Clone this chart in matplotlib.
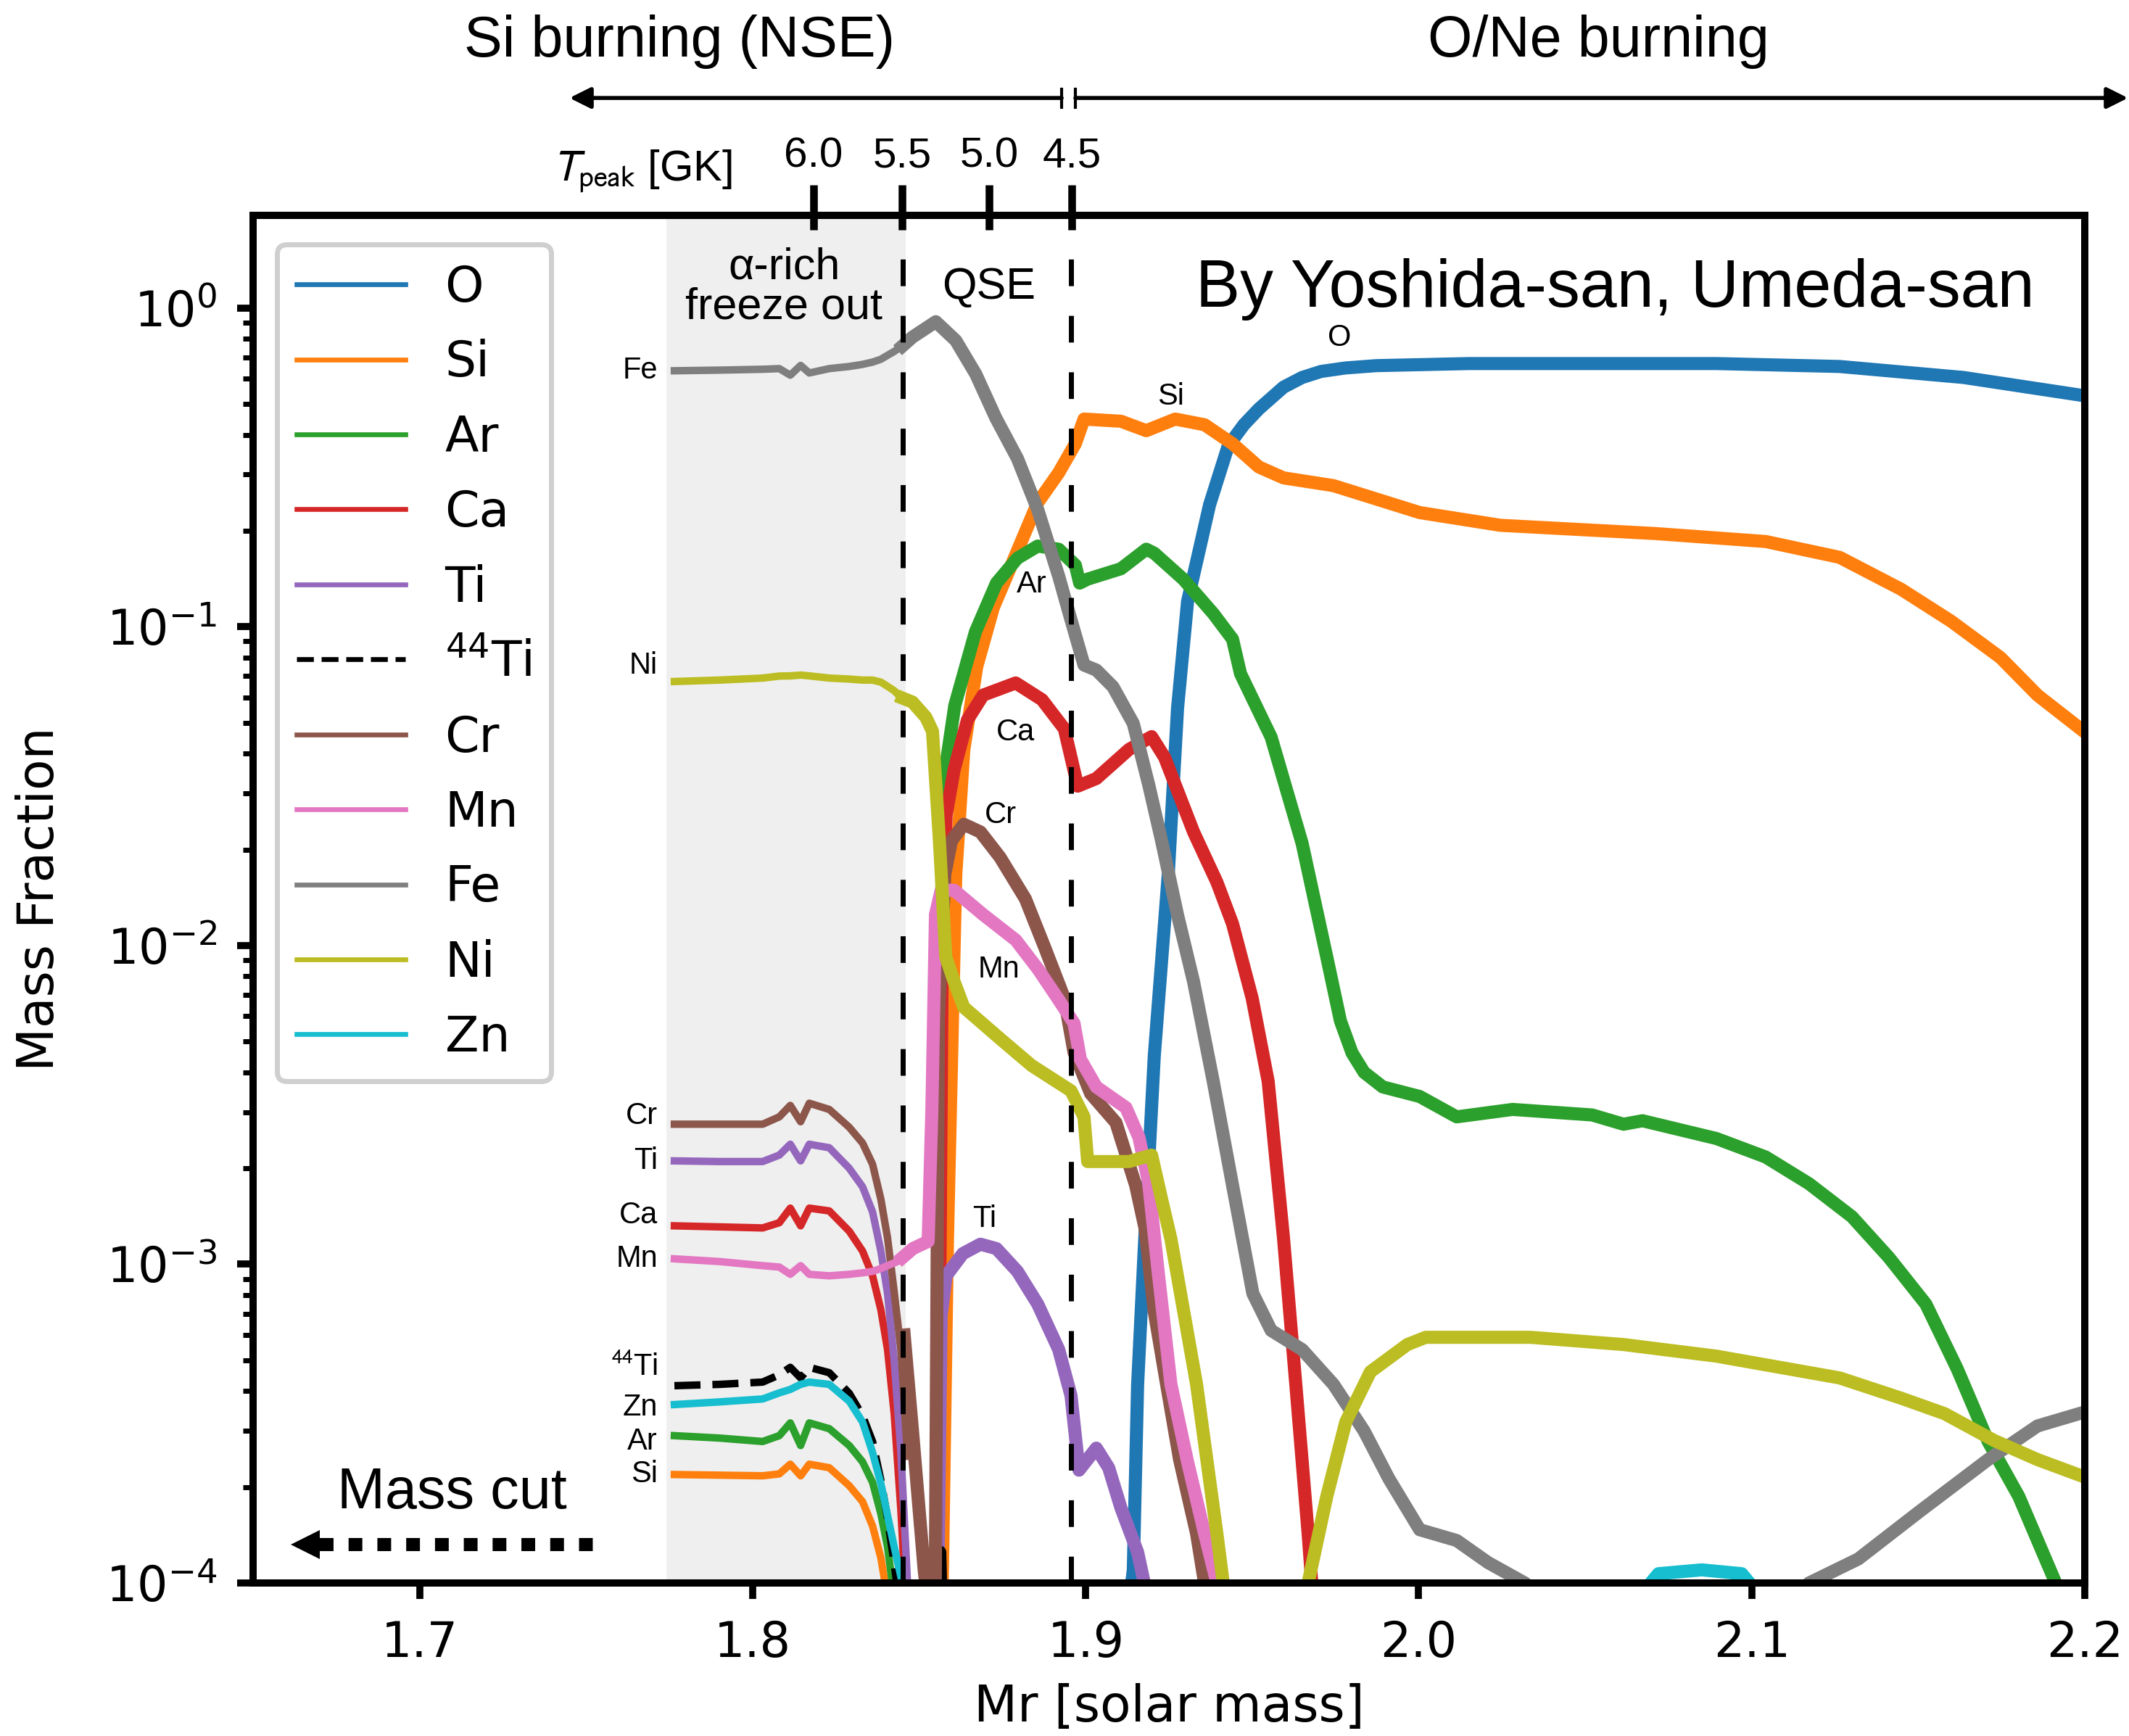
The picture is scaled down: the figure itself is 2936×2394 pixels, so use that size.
import matplotlib
matplotlib.use('Agg')
import matplotlib.pyplot as plt
from matplotlib.lines import Line2D

# ---- alpha-rich freeze-out zone (thin lines), common mass grid ----
x_in = [1.7765, 1.790, 1.803, 1.808, 1.8113, 1.8144, 1.817, 1.823, 1.829,
        1.833, 1.836, 1.8385, 1.8405, 1.8425, 1.8445, 1.8465]
fe_in = [0.635, 0.638, 0.642, 0.645, 0.615, 0.66, 0.625, 0.645, 0.655,
         0.665, 0.676, 0.69, 0.71, 0.73, 0.755, 0.78]
ni_in = [0.0673, 0.068, 0.069, 0.070, 0.0701, 0.0705, 0.0701, 0.069, 0.0685,
         0.068, 0.068, 0.067, 0.065, 0.063, 0.060, 0.058]
si_in = [2.19e-4, 2.18e-4, 2.17e-4, 2.2e-4, 2.36e-4, 2.17e-4, 2.36e-4, 2.3e-4, 2.02e-4,
         1.8e-4, 1.51e-4, 1.2e-4, 9e-5, 6e-5, 5e-5, 5e-5]
ar_in = [2.9e-4, 2.85e-4, 2.78e-4, 2.9e-4, 3.18e-4, 2.7e-4, 3.18e-4, 3.05e-4, 2.7e-4,
         2.4e-4, 2.07e-4, 1.65e-4, 1.3e-4, 9e-5, 5e-5, 5e-5]
zn_in = [3.63e-4, 3.7e-4, 3.78e-4, 3.95e-4, 4.05e-4, 4.2e-4, 4.27e-4, 4.2e-4, 3.72e-4,
         3.2e-4, 2.57e-4, 2.05e-4, 1.63e-4, 1.3e-4, 1.05e-4, 8e-5]
ti44_in = [4.16e-4, 4.2e-4, 4.27e-4, 4.5e-4, 4.75e-4, 4.4e-4, 4.75e-4, 4.57e-4, 3.94e-4,
           3.35e-4, 2.78e-4, 2.1e-4, 1.6e-4, 1.15e-4, 8e-5, 5e-5]
ca_in = [1.32e-3, 1.31e-3, 1.3e-3, 1.35e-3, 1.5e-3, 1.32e-3, 1.5e-3, 1.47e-3, 1.27e-3,
         1.1e-3, 9.2e-4, 7.2e-4, 5.4e-4, 3.4e-4, 1.7e-4, 7e-5]
ti_in = [2.11e-3, 2.1e-3, 2.1e-3, 2.2e-3, 2.38e-3, 2.11e-3, 2.38e-3, 2.32e-3, 2.0e-3,
         1.75e-3, 1.46e-3, 1.1e-3, 8.1e-4, 5e-4, 2.6e-4, 1.0e-4]
cr_in = [2.75e-3, 2.75e-3, 2.75e-3, 2.9e-3, 3.15e-3, 2.8e-3, 3.2e-3, 3.06e-3, 2.69e-3,
         2.4e-3, 2.06e-3, 1.6e-3, 1.21e-3, 8.2e-4, 5.4e-4, 2.5e-4]
mn_in = [1.04e-3, 1.02e-3, 9.9e-4, 9.8e-4, 9.3e-4, 9.9e-4, 9.3e-4, 9.2e-4, 9.3e-4,
         9.4e-4, 9.5e-4, 9.7e-4, 9.9e-4, 1.01e-3, 1.03e-3, 1.06e-3]

# ---- QSE / incomplete Si burning / O burning (thick lines) ----
o_x = [1.912, 1.9143, 1.9156, 1.9178, 1.9206, 1.9248, 1.9276, 1.9306, 1.9372, 1.9428,
       1.9475, 1.952, 1.9594, 1.965, 1.9707, 1.978, 1.9873, 2.0151, 2.0894, 2.1264,
       2.1636, 2.2]
o_y = [7e-5, 1.1e-4, 4.2e-4, 1.24e-3, 4.5e-3, 0.0167, 0.0557, 0.12, 0.241, 0.369,
       0.43, 0.482, 0.564, 0.605, 0.632, 0.648, 0.659, 0.669, 0.669, 0.655,
       0.605, 0.53]

si_x = [1.8568, 1.8585, 1.861, 1.8634, 1.8673, 1.8723, 1.877, 1.8856, 1.8919, 1.8969,
        1.8995, 1.9106, 1.9182, 1.9269, 1.9357, 1.9441, 1.952, 1.9594, 1.9744, 2.0003,
        2.0245, 2.0709, 2.1042, 2.1264, 2.1449, 2.1599, 2.1747, 2.1858, 2.2]
si_y = [8e-5, 1.2e-3, 0.0167, 0.041, 0.075, 0.115, 0.15, 0.245, 0.304, 0.375,
        0.448, 0.441, 0.412, 0.448, 0.43, 0.375, 0.317, 0.293, 0.277, 0.228,
        0.208, 0.196, 0.185, 0.165, 0.131, 0.104, 0.080, 0.061, 0.0467]

ar_x = [1.8555, 1.857, 1.8607, 1.8669, 1.8732, 1.8795, 1.8856, 1.8919, 1.8969, 1.8982,
        1.9006, 1.9106, 1.9182, 1.9206, 1.9293, 1.9383, 1.9441, 1.9465, 1.9557, 1.965,
        1.9724, 1.9765, 1.980, 1.9836, 1.9892, 2.0003, 2.0114, 2.0282, 2.0521, 2.0615,
        2.0672, 2.0894, 2.1042, 2.1172, 2.1301, 2.1412, 2.1523, 2.1617, 2.171, 2.1802,
        2.1913, 2.195]
ar_y = [8e-5, 0.031, 0.0566, 0.0964, 0.137, 0.164, 0.179, 0.175, 0.156, 0.137,
        0.141, 0.152, 0.175, 0.17, 0.141, 0.110, 0.0914, 0.0712, 0.045, 0.0209,
        0.0092, 0.0058, 0.0046, 0.0040, 0.0036, 0.00336, 0.0029, 0.00306, 0.00294, 0.00275,
        0.00282, 0.00248, 0.00217, 0.00179, 0.00141, 0.00105, 7.5e-4, 4.7e-4, 2.78e-4, 1.87e-4,
        1.0e-4, 7e-5]

ca_x = [1.8555, 1.857, 1.8581, 1.8605, 1.8645, 1.8692, 1.879, 1.8869, 1.8936, 1.8956,
        1.8976, 1.9032, 1.913, 1.9198, 1.9237, 1.9324, 1.9394, 1.9441, 1.95, 1.9548,
        1.9594, 1.9631, 1.9668, 1.969]
ca_y = [8e-5, 0.012, 0.0256, 0.0356, 0.051, 0.061, 0.0666, 0.059, 0.0478, 0.0389,
        0.0316, 0.0334, 0.0412, 0.0452, 0.0389, 0.0227, 0.0158, 0.0117, 0.00683, 0.00375,
        1.21e-3, 4.2e-4, 1.43e-4, 7e-5]

ti_x = [1.8555, 1.8566, 1.8581, 1.8631, 1.8684, 1.8732, 1.8795, 1.8856, 1.8919, 1.8956,
        1.898, 1.9032, 1.9069, 1.9106, 1.9156, 1.9176, 1.919]
ti_y = [8e-5, 6.9e-4, 9.2e-4, 1.08e-3, 1.156e-3, 1.12e-3, 9.5e-4, 7.5e-4, 5.4e-4, 3.87e-4,
        2.26e-4, 2.65e-4, 2.3e-4, 1.72e-4, 1.25e-4, 1.0e-4, 7e-5]

ti44_x = [1.8555, 1.8562, 1.8569]
ti44_y = [6e-5, 1.25e-4, 6e-5]

cr_x = [1.8455, 1.848, 1.8515, 1.853, 1.8548, 1.8558, 1.8577, 1.8597, 1.8634, 1.8684,
        1.8743, 1.8819, 1.8878, 1.8936, 1.8965, 1.9015, 1.9091, 1.915, 1.9178, 1.9206,
        1.9243, 1.9282, 1.9333, 1.9357, 1.937]
cr_y = [6e-4, 3e-4, 1.1e-4, 8e-5, 8e-5, 6e-3, 0.0167, 0.0213, 0.024, 0.0227,
        0.0189, 0.014, 0.0098, 0.00683, 0.00462, 0.00343, 0.00278, 0.00177, 0.0013, 7.1e-4,
        4.2e-4, 2.44e-4, 1.43e-4, 1.0e-4, 7e-5]

mn_x = [1.845, 1.8481, 1.8527, 1.8538, 1.8549, 1.8566, 1.8605, 1.8692, 1.879, 1.8858,
        1.8917, 1.8965, 1.8984, 1.9032, 1.9121, 1.916, 1.9189, 1.9219, 1.9256, 1.9306,
        1.9357, 1.9394, 1.941]
mn_y = [1.05e-3, 1.12e-3, 1.18e-3, 3e-3, 0.0125, 0.0149, 0.0149, 0.0125, 0.0104, 0.0084,
        0.0068, 0.0057, 0.0044, 0.0036, 0.0031, 0.0025, 0.0018, 9.2e-4, 4.2e-4, 2.4e-4,
        1.43e-4, 1.0e-4, 7e-5]

fe_x = [1.845, 1.848, 1.855, 1.861, 1.867, 1.873, 1.8795, 1.8856, 1.8919, 1.8956,
        1.8995, 1.9032, 1.9082, 1.9143, 1.919, 1.9228, 1.9276, 1.9324, 1.9383, 1.9441,
        1.9502, 1.9557, 1.965, 1.9744, 1.9836, 1.991, 2.0003, 2.0114, 2.0208, 2.0319,
        2.045, 2.105, 2.1172, 2.132, 2.1505, 2.171, 2.1858, 2.2]
fe_y = [0.76, 0.81, 0.905, 0.79, 0.62, 0.452, 0.337, 0.233, 0.144, 0.105,
        0.0758, 0.0731, 0.0648, 0.0497, 0.0317, 0.0213, 0.01245, 0.0077, 0.00375, 0.00177,
        8.1e-4, 6.2e-4, 5.4e-4, 4.2e-4, 3.0e-4, 2.13e-4, 1.47e-4, 1.36e-4, 1.16e-4, 1.0e-4,
        7e-5, 7e-5, 1.0e-4, 1.19e-4, 1.68e-4, 2.44e-4, 3.11e-4, 3.44e-4]

ni_x = [1.845, 1.848, 1.852, 1.854, 1.856, 1.858, 1.8605, 1.8634, 1.8743, 1.8838,
        1.8956, 1.8995, 1.9006, 1.913, 1.9198, 1.9228, 1.9256, 1.9333, 1.9394, 1.9425,
        1.966, 1.9668, 1.9724, 1.9781, 1.9855, 1.9966, 2.0021, 2.0336, 2.0615, 2.0894,
        2.1264, 2.1449, 2.1579, 2.1728, 2.1858, 2.2]
ni_y = [0.0597, 0.058, 0.052, 0.047, 0.022, 0.0092, 0.0077, 0.0064, 0.0051, 0.0042,
        0.0035, 0.0029, 0.0021, 0.0021, 0.0022, 0.0016, 0.0012, 4.2e-4, 1.43e-4, 8e-5,
        8e-5, 1.0e-4, 1.87e-4, 3.2e-4, 4.6e-4, 5.6e-4, 5.9e-4, 5.9e-4, 5.6e-4, 5.15e-4,
        4.4e-4, 3.8e-4, 3.4e-4, 2.8e-4, 2.44e-4, 2.15e-4]

zn_x = [2.062, 2.072, 2.085, 2.097, 2.107]
zn_y = [8e-5, 1.07e-4, 1.1e-4, 1.07e-4, 8e-5]

tpeak_x = [1.8183, 1.8449, 1.871, 1.8958]
tpeak_lab = ['6.0', '5.5', '5.0', '4.5']
xtick_vals = [1.7, 1.8, 1.9, 2.0, 2.1, 2.2]

names = ['O', 'Si', 'Ar', 'Ca', 'Ti', r'$^{44}$Ti', 'Cr', 'Mn', 'Fe', 'Ni', 'Zn']
cols = ['tab:blue', 'tab:orange', 'tab:green', 'tab:red', 'tab:purple', 'k',
        'tab:brown', 'tab:pink', 'tab:gray', 'tab:olive', 'tab:cyan']
inner = [None, si_in, ar_in, ca_in, ti_in, ti44_in, cr_in, mn_in, fe_in, ni_in, zn_in]
outer = [(o_x, o_y), (si_x, si_y), (ar_x, ar_y), (ca_x, ca_y), (ti_x, ti_y),
         (ti44_x, ti44_y), (cr_x, cr_y), (mn_x, mn_y), (fe_x, fe_y), (ni_x, ni_y),
         (zn_x, zn_y)]

HFONT = 'Liberation Sans'

fig = plt.figure(figsize=(14.68, 11.97), dpi=200)
ax = fig.add_axes([0.1189, 0.0881, 0.8603, 0.7878])
ax.set_yscale('log')
ax.set_xlim(1.65, 2.2)
ax.set_ylim(1e-4, 1.95)

ax.axvspan(1.774, 1.846, color='#efefef', zorder=0, lw=0)

for nm, c, yin, (xo, yo) in zip(names, cols, inner, outer):
    ls = (0, (3.5, 1.6)) if c == 'k' else '-'
    if yin is not None:
        ax.plot(x_in, yin, color=c, lw=3.7, ls=ls)
    ax.plot(xo, yo, color=c, lw=6.5)

for xv in (1.845, 1.8956):
    ax.axvline(xv, color='k', lw=2.5, ls=(0, (5.3, 5.9)), zorder=5)

# labels at the start of the thin lines
left_lab = ['Fe', 'Ni', 'Cr', 'Ti', 'Ca', 'Mn', r'$^{44}$Ti', 'Zn', 'Ar', 'Si']
left_y = [fe_in[0], ni_in[0] * 1.12, cr_in[0] * 1.06, ti_in[0], ca_in[0] * 1.08,
          mn_in[0], ti44_in[0] * 1.14, zn_in[0] * 0.98, ar_in[0] * 0.96, si_in[0]]
for t, yv in zip(left_lab, left_y):
    ax.text(1.7715, yv, t, ha='right', va='center', fontsize=15, family=HFONT,
            math_fontfamily='stixsans')

# labels along the thick lines
for t, xv, yv in [('Ar', 1.8838, 0.136), ('Ca', 1.879, 0.0467), ('Cr', 1.8745, 0.0256),
                  ('Mn', 1.874, 0.0084), ('Ti', 1.8695, 1.39e-3), ('Si', 1.9256, 0.528),
                  ('O', 1.9762, 0.807)]:
    ax.text(xv, yv, t, ha='center', va='center', fontsize=15, family=HFONT)

trans = ax.get_xaxis_transform()
ax.text(1.8094, 0.9475, 'α-rich\nfreeze out', transform=trans, ha='center', va='center',
        fontsize=22, family=HFONT, linespacing=0.95)
ax.text(1.871, 0.9475, 'QSE', transform=trans, ha='center', va='center',
        fontsize=22, family=HFONT)

# mass cut arrow
ax.plot([1.6700, 1.7525], [1.32e-4, 1.32e-4], color='k', lw=6.5,
        ls=(0, (1.05, 1.15)), dash_capstyle='butt')
ax.plot([1.6657], [1.32e-4], marker='<', ms=14.5, color='k', mew=0)
ax.text(1.7097, 1.72e-4, 'Mass cut', ha='center', va='baseline', fontsize=28.5, family=HFONT)

# T_peak scale on top
for xv, t in zip(tpeak_x, tpeak_lab):
    ax.plot([xv, xv], [0.9894, 1.0223], transform=trans, color='k', lw=3.8,
            clip_on=False, solid_capstyle='butt')
    ax.text(xv, 1.0355, t, transform=trans, ha='center', va='baseline',
            fontsize=21, family=HFONT)
ax.text(1.7939, 1.026, r'$T_{\mathrm{peak}}$ [GK]', transform=trans, ha='right',
        va='baseline', fontsize=21.5, family=HFONT, math_fontfamily='stixsans')

# burning regimes
ax.annotate('', xy=(1.745, 1.0859), xytext=(1.8928, 1.0859), xycoords=trans,
            textcoords=trans, annotation_clip=False,
            arrowprops=dict(arrowstyle='-|>', color='k', lw=2, mutation_scale=22,
                            shrinkA=0, shrinkB=0))
ax.annotate('', xy=(2.213, 1.0859), xytext=(1.8969, 1.0859), xycoords=trans,
            textcoords=trans, annotation_clip=False,
            arrowprops=dict(arrowstyle='-|>', color='k', lw=2, mutation_scale=22,
                            shrinkA=0, shrinkB=0))
for xv in (1.8928, 1.8969):
    ax.plot([xv, xv], [1.079, 1.0923], transform=trans, color='k', lw=1.5, clip_on=False)
ax.text(1.778, 1.1161, 'Si burning (NSE)', transform=trans, ha='center', va='baseline',
        fontsize=28.5, family=HFONT)
ax.text(2.0541, 1.1161, 'O/Ne burning', transform=trans, ha='center', va='baseline',
        fontsize=28.5, family=HFONT)

fig.text(2806 / 2936, 1 - 423 / 2394, 'By Yoshida-san, Umeda-san', ha='right',
         va='baseline', fontsize=33, family=HFONT)

# axes styling
ax.set_xticks(xtick_vals)
ax.set_xticklabels(['%.1f' % v for v in xtick_vals])
ax.tick_params(which='major', length=8, width=3.5, labelsize=24, pad=10)
ax.tick_params(which='minor', length=5, width=2.5)
for s in ax.spines.values():
    s.set_linewidth(3.6)
ax.set_xlabel('Mr [solar mass]', fontsize=25)
ax.set_ylabel('Mass Fraction', fontsize=25)
ax.xaxis.set_label_coords(0.5, -0.073)
ax.yaxis.set_label_coords(-0.1033, 0.5)

handles = [Line2D([], [], color=c, lw=2.4, ls=(0, (3.5, 1.6)) if c == 'k' else '-')
           for c in cols]
leg = ax.legend(handles, names, loc='upper left', bbox_to_anchor=(0.0131, 0.979),
                borderaxespad=0, fontsize=24.5, handlelength=2.2, handletextpad=0.8,
                labelspacing=0.55, framealpha=1, edgecolor='#cfcfcf', fancybox=True)
leg.get_frame().set_linewidth(2.5)

fig.savefig('out.png', dpi=200)
